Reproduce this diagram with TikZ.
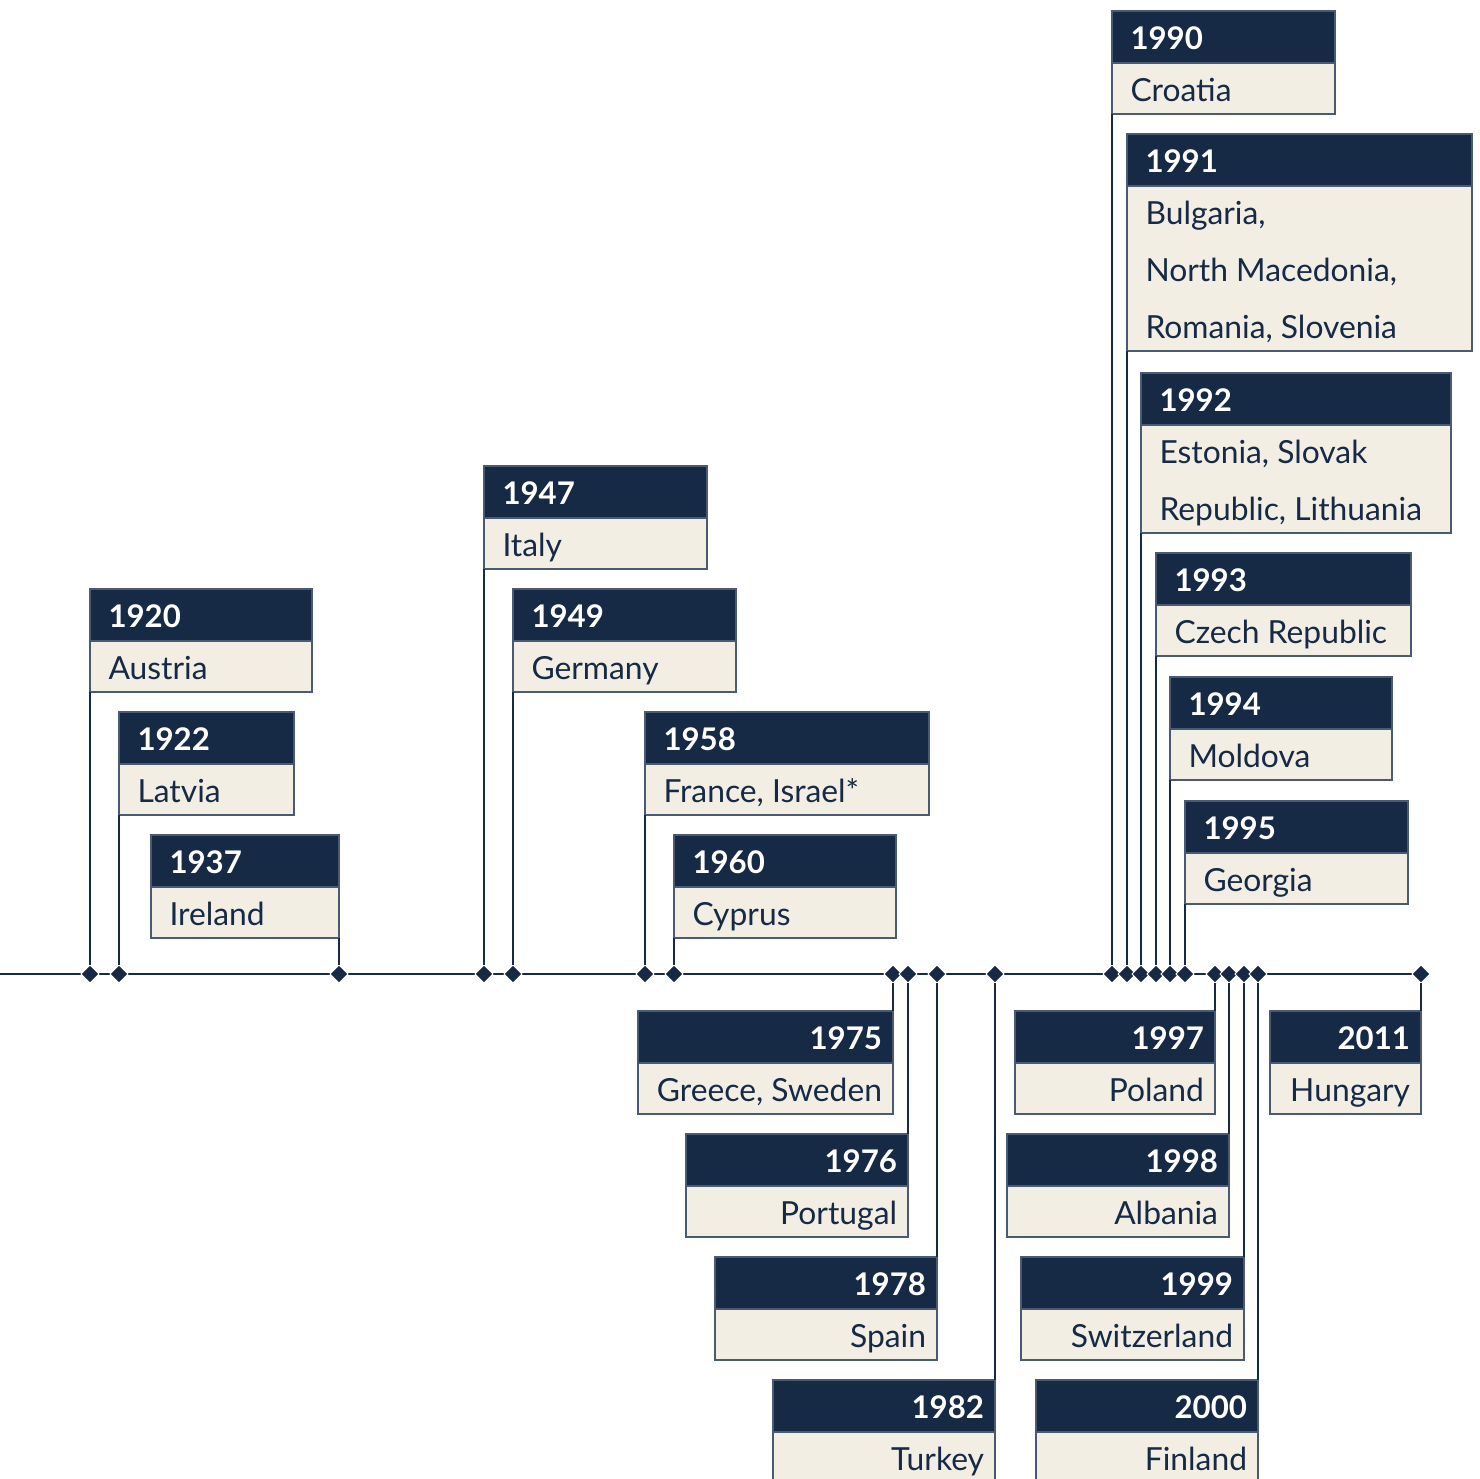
\documentclass[tikz,border=0pt]{standalone}
\usepackage{fontspec}
\setmainfont{Lato}
\usetikzlibrary{shapes.geometric}
\definecolor{navy}{HTML}{162A45}
\definecolor{cream}{HTML}{F2EEE3}
\definecolor{edge}{HTML}{4A5A72}
\tikzset{
  frame/.style={rectangle, draw=edge, line width=1.3pt, fill=cream, inner sep=0pt, outer sep=0pt},
  head/.style={rectangle, draw=edge, line width=1.3pt, fill=navy, inner sep=0pt, outer sep=0pt, minimum height=52pt},
  yeartxt/.style={font=\fontsize{31.2}{36}\selectfont\bfseries, text=white, inner sep=0pt, outer sep=0pt},
  bodytxt/.style={font=\fontsize{31.8}{36}\selectfont, text=navy, inner sep=0pt, outer sep=0pt},
  conn/.style={draw=navy, line width=1.5pt},
  axisline/.style={draw=navy, line width=2pt},
  dmd/.style={diamond, fill=navy, draw=white, line width=0.8pt, minimum width=18pt, minimum height=18pt, inner sep=0pt, outer sep=0pt},
}
% box given by its left edge / text left aligned
\newcommand\lbox[7]{%
  \node[frame, anchor=north west, minimum width=#4, minimum height={52+#5}] (#1) at (#2,#3) {};
  \node[head, anchor=north west, minimum width=#4] (#1h) at (#2,#3) {};
  \node[yeartxt, anchor=base west] (#1y) at ({#2+18.5},{#3+38}) {#6};
  \node[bodytxt, anchor=base west] (#1t) at ({#2+18.5},{#3+90}) {#7};
}
% box given by its right edge / text right aligned
\newcommand\rbox[7]{%
  \node[frame, anchor=north east, minimum width=#4, minimum height={52+#5}] (#1) at (#2,#3) {};
  \node[head, anchor=north east, minimum width=#4] (#1h) at (#2,#3) {};
  \node[yeartxt, anchor=base east] (#1y) at ({#2-11},{#3+38}) {#6};
  \node[bodytxt, anchor=base east] (#1t) at ({#2-11},{#3+90}) {#7};
}
\begin{document}
\begin{tikzpicture}[x=1pt,y=-1pt]
\useasboundingbox (0,0) rectangle (1480,1478);
% axis
\coordinate (axstart) at (0,974);
\coordinate (axend) at (1421,974);
\draw[axisline] (axstart) -- (axend);
% diamonds
\foreach \yr/\xx in {1920/90,1922/119,1937/339,1947/484,1949/513,1958/645,1960/674,
  1975/893,1976/908,1978/937,1982/995,1990/1112,1991/1127,1992/1141,1993/1156,
  1994/1170,1995/1185,1997/1215,1998/1229,1999/1244,2000/1258,2011/1421}
  {\node[dmd] (d\yr) at (\xx,974) {};}
% boxes above the axis
\lbox{b1920}{90}{589}{222}{51}{1920}{Austria}
\lbox{b1922}{119}{712}{175}{51}{1922}{Latvia}
\lbox{b1937}{151}{835}{188}{51}{1937}{Ireland}
\lbox{b1947}{484}{466}{223}{51}{1947}{Italy}
\lbox{b1949}{513}{589}{223}{51}{1949}{Germany}
\lbox{b1958}{645}{712}{284}{51}{1958}{France, Israel*}
\lbox{b1960}{674}{835}{222}{51}{1960}{Cyprus}
\lbox{b1990}{1112}{11}{223}{51}{1990}{Croatia}
\lbox{b1991}{1127}{134}{345}{165}{1991}{Bulgaria,}
\node[bodytxt, anchor=base west] (b1991t2) at (1145.5,281) {North Macedonia,};
\node[bodytxt, anchor=base west] (b1991t3) at (1145.5,338) {Romania, Slovenia};
\lbox{b1992}{1141}{373}{310}{108}{1992}{Estonia, Slovak}
\node[bodytxt, anchor=base west] (b1992t2) at (1159.5,520) {Republic, Lithuania};
\lbox{b1993}{1156}{553}{255}{51}{1993}{Czech Republic}
\lbox{b1994}{1170}{677}{222}{51}{1994}{Moldova}
\lbox{b1995}{1185}{801}{223}{51}{1995}{Georgia}
% boxes below the axis
\rbox{b1975}{893}{1011}{255}{51}{1975}{Greece, Sweden}
\rbox{b1976}{908}{1134}{222}{51}{1976}{Portugal}
\rbox{b1978}{937}{1257}{222}{51}{1978}{Spain}
\rbox{b1982}{995}{1380}{222}{51}{1982}{Turkey}
\rbox{b1997}{1215}{1011}{200}{51}{1997}{Poland}
\rbox{b1998}{1229}{1134}{222}{51}{1998}{Albania}
\rbox{b1999}{1244}{1257}{223}{51}{1999}{Switzerland}
\rbox{b2000}{1258}{1380}{222}{51}{2000}{Finland}
\rbox{b2011}{1421}{1011}{151}{51}{2011}{Hungary}
% connectors
\foreach \yr in {1920,1922,1947,1949,1958,1960,1990,1991,1992,1993,1994,1995}
  {\draw[conn] (b\yr.south west) -- (d\yr);}
\draw[conn] (b1937.south east) -- (d1937);
\foreach \yr in {1975,1976,1978,1982,1997,1998,1999,2000,2011}
  {\draw[conn] (b\yr.north east) -- (d\yr);}
\end{tikzpicture}
\end{document}
